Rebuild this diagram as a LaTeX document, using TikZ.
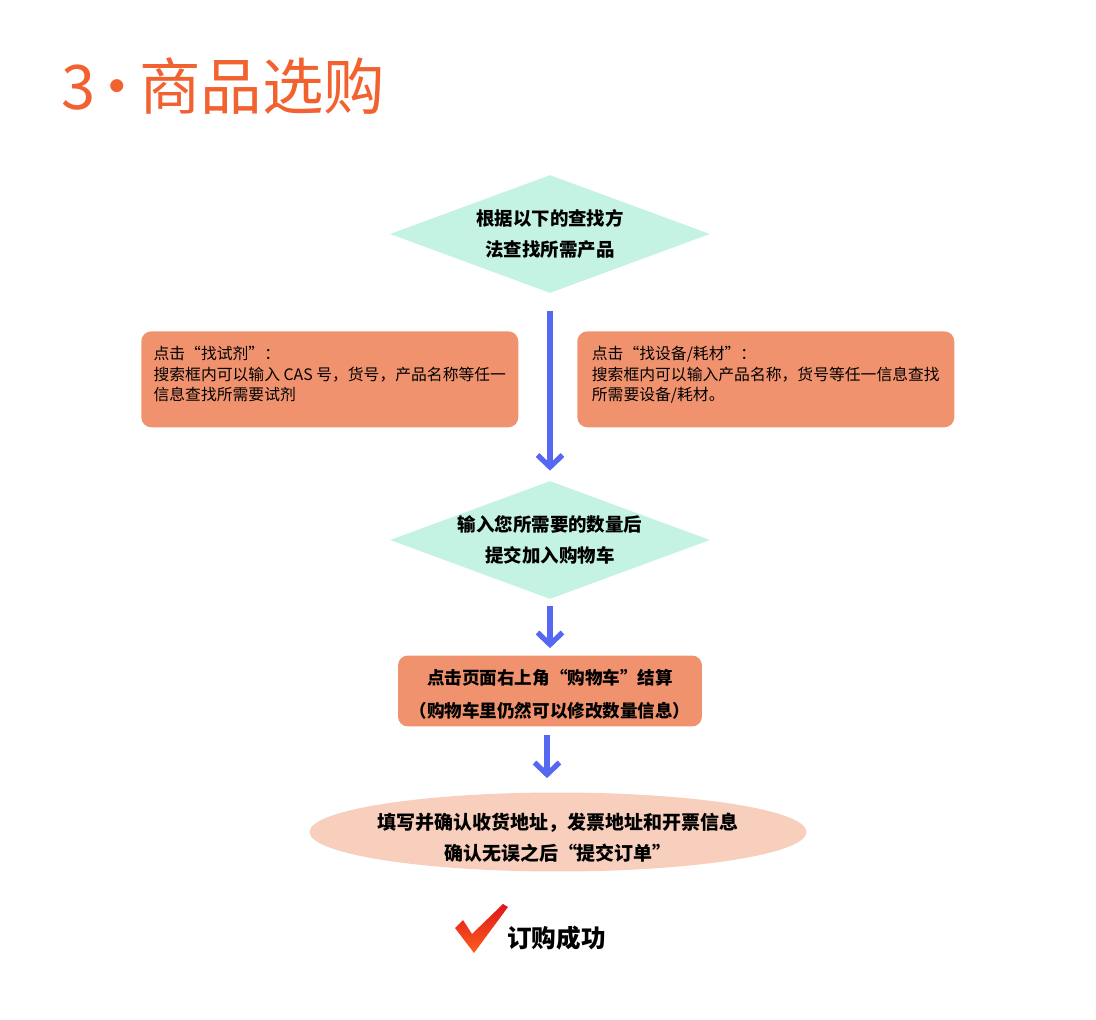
\documentclass[tikz,border=0pt]{standalone}
\usepackage{fontspec}
\setmainfont{Noto Sans CJK SC}
\usetikzlibrary{shapes.geometric, arrows.meta}

\definecolor{titleorange}{RGB}{242,98,48}
\definecolor{mint}{RGB}{196,242,227}
\definecolor{salmon}{RGB}{240,146,110}
\definecolor{peach}{RGB}{248,206,188}
\definecolor{flowblue}{RGB}{84,104,242}
\definecolor{checkred}{RGB}{225,20,25}
\definecolor{checkorange}{RGB}{250,95,30}

\newcommand\flowfont{\fontsize{10.5}{17.6}\selectfont\bfseries}
\newcommand\infofont{\fontsize{9}{11.9}\selectfont}
% struts that move a block of lines up or down inside its shape
\newcommand\toppad[1]{\rule{0pt}{#1}}
\newcommand\botpad[1]{\rule[-#1]{0pt}{0pt}}

\tikzset{
  heading/.style  = {font=\fontsize{35}{40}\selectfont, text=titleorange, anchor=west, inner sep=0pt},
  decision/.style = {shape=diamond, fill=mint, aspect=2.71, inner sep=0pt,
                     minimum width=6.4cm, minimum height=2.36cm,
                     align=center, font=\flowfont},
  infobox/.style  = {shape=rectangle, rounded corners=0.2cm, fill=salmon,
                     align=left, anchor=north west, font=\infofont,
                     minimum width=7.54cm, minimum height=1.92cm},
  stepbox/.style  = {shape=rectangle, rounded corners=0.2cm, fill=salmon,
                     align=center, font=\fontsize{10}{18.9}\selectfont\bfseries,
                     minimum width=6.08cm, minimum height=1.42cm},
  finish/.style   = {shape=ellipse, fill=peach, inner xsep=-2cm, inner ysep=-1cm,
                     align=center, font=\fontsize{10.8}{17.6}\selectfont\bfseries,
                     minimum width=9.94cm, minimum height=1.58cm},
  flow/.style     = {draw=flowblue, line width=3pt,
                     -{Straight Barb[length=2.4mm, width=5mm]}}
}

\begin{document}
\begin{tikzpicture}
  [
    x = 0.02cm,
    y = -0.02cm
  ]
  \useasboundingbox (0,0) rectangle (1096,1020);

  \node [heading] (title) at (61,86) {3\kern-5pt·\kern-5pt商品选购};

  \node [decision] (search) at (550,234) {根据以下的查找方\\法查找所需产品};
  \node [infobox] (reagent) at (141,331)
    {点击“找试剂”：\\搜索框内可以输入 CAS 号，货号，产品名称等任一\\信息查找所需要试剂\botpad{6.8pt}};
  \node [infobox] (device) at (577,331)
    {点击“找设备/耗材”：\\搜索框内可以输入产品名称，货号等任一信息查找\\所需要设备/耗材。\botpad{6.8pt}};
  \node [decision] (qty) at (550,540) {输入您所需要的数量后\\提交加入购物车};
  \node [stepbox] (cart) at (550,691) {\toppad{12.2pt}点击页面右上角“购物车”结算\\（购物车里仍然可以修改数量信息）};
  \node [finish] (order) at (558,832) {\toppad{16pt}填写并确认收货地址，发票地址和开票信息\\确认无误之后“提交订单”};
  \node [anchor=west, inner sep=0pt, font=\fontsize{14}{16}\selectfont\bfseries] (done) at (507,938) {订购成功};

  % arrows
  \draw [flow, shorten <=0.36cm, shorten >=0.2cm] (search) -- (qty);
  \draw [flow, shorten <=0.14cm, shorten >=0.14cm] (qty) -- (cart);
  \draw [flow, shorten <=0.16cm, shorten >=0.28cm]
    ([xshift=-0.06cm]cart.south) -- ([xshift=-0.06cm]cart.south |- order.north);

  % check mark
  \shade [top color=checkred, bottom color=checkorange]
    (455,928) -- (463,920) -- (472,934) -- (503,904) -- (508,907) -- (474,953) -- cycle;
\end{tikzpicture}
\end{document}
